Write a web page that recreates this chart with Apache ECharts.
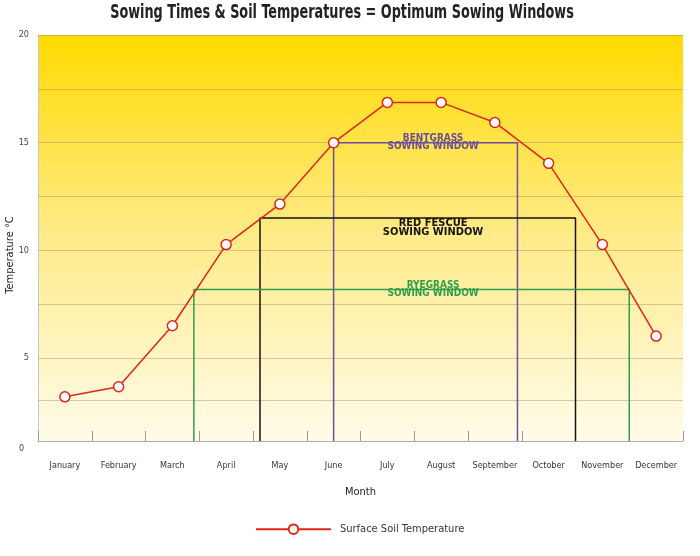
<!DOCTYPE html>
<html>
<head>
<meta charset="utf-8">
<script src="https://cdn.jsdelivr.net/npm/echarts@6/dist/echarts.min.js"></script>
<style>html,body{margin:0;padding:0;background:#fff;}#c{width:700px;height:556px;}</style>
</head>
<body>
<div id="c"></div>
<script>
var months = ['January','February','March','April','May','June','July','August','September','October','November','December'];
var soilTemp = [3.2, 3.67, 6.5, 10.27, 12.15, 15.0, 16.87, 16.87, 15.94, 14.04, 10.27, 6.02];
var yLabels = [5, 10, 15, 20];
var gridValues = [3.05, 5, 7.5, 10, 12.5, 15, 17.5, 20];
var yMin = 1.15, yMax = 20;
// sowing windows: [startMonthIndex, endMonthIndex, temperature]
var bentgrass = [5.0, 8.42, 15.0];
var redFescue = [3.63, 9.5, 11.5];
var ryegrass = [2.4, 10.5, 8.18];
var labelX = 6.85;

var FONT = '"DejaVu Sans Condensed", "DejaVu Sans", sans-serif';

function windowData(w) {
  return [[w[0], yMin], [w[0], w[2]], [w[1], w[2]], [w[1], yMin]];
}
function windowSeries(name, w, color, text, fs, lh, labelY) {
  return {
    name: name, type: 'line', xAxisIndex: 1, yAxisIndex: 0,
    data: windowData(w), symbol: 'none', silent: true, z: 3,
    lineStyle: { color: color, width: 1.5 },
    markPoint: {
      symbol: 'circle', symbolSize: 1, itemStyle: { color: 'rgba(0,0,0,0)' }, silent: true,
      data: [{ coord: [labelX, labelY] }],
      label: { show: true, position: 'inside', formatter: text, color: color,
        fontFamily: FONT, fontWeight: 'bold', fontSize: fs, lineHeight: lh, align: 'center' }
    }
  };
}

var chart = echarts.init(document.getElementById('c'));
chart.setOption({
  animation: false,
  grid: {
    left: 38, right: 17, top: 35, bottom: 115, show: true, borderWidth: 0,
    containLabel: false, outerBoundsMode: 'none',
    backgroundColor: new echarts.graphic.LinearGradient(0, 0, 0, 1, [
      { offset: 0, color: '#ffda00' },
      { offset: 0.5, color: '#ffeb8a' },
      { offset: 1, color: '#fffcea' }
    ])
  },
  legend: {
    data: ['Surface Soil Temperature'], bottom: 16, left: 250,
    itemWidth: 75, itemHeight: 12, itemGap: 10,
    textStyle: { fontFamily: FONT, fontSize: 11, color: '#333', padding: [0, 0, 0, 4] }
  },
  xAxis: [{
    type: 'category', data: months, boundaryGap: true,
    axisLine: { show: true, lineStyle: { color: '#aaa', width: 1 } },
    axisTick: { show: true, inside: true, length: 10, interval: 0, lineStyle: { color: '#999' } },
    axisLabel: { interval: 0, margin: 20, fontSize: 9, color: '#333', fontFamily: FONT },
    name: 'Month', nameLocation: 'middle', nameGap: 46,
    nameTextStyle: { fontFamily: FONT, fontSize: 11, color: '#222' }
  }, {
    type: 'value', min: -0.5, max: 11.5, show: false
  }],
  yAxis: {
    type: 'value', min: yMin, max: yMax,
    axisLine: { show: true, onZero: false, lineStyle: { color: '#c8c8c8' } },
    axisTick: { show: false },
    splitLine: { show: false },
    axisLabel: { customValues: yLabels, margin: 9, fontSize: 9, color: '#444', fontFamily: FONT }
  },
  graphic: [{
    type: 'text', x: 342, y: 13, scaleX: 0.75,
    style: { text: 'Sowing Times & Soil Temperatures = Optimum Sowing Windows',
      fontFamily: FONT, fontSize: 19, fontWeight: 'bold', fill: '#222',
      align: 'center', verticalAlign: 'middle' }
  }, {
    type: 'text', x: 10, y: 255, rotation: Math.PI / 2,
    style: { text: 'Temperature °C', fontFamily: FONT, fontSize: 11, fill: '#222',
      align: 'center', verticalAlign: 'middle' }
  }, {
    type: 'text', left: 19, top: 444,
    style: { text: '0', fontSize: 9, fill: '#444', fontFamily: FONT }
  }],
  series: [
    windowSeries('Bentgrass', bentgrass, '#6a4f9c', 'BENTGRASS\nSOWING WINDOW', 10, 8, 15.0),
    windowSeries('Red Fescue', redFescue, '#141414', 'RED FESCUE\nSOWING WINDOW', 11, 9, 11.07),
    windowSeries('Ryegrass', ryegrass, '#2e9e4e', 'RYEGRASS\nSOWING WINDOW', 10, 8, 8.17),
    {
      name: 'Surface Soil Temperature', type: 'line', data: soilTemp, z: 5,
      symbol: 'circle', symbolSize: 10, showAllSymbol: true,
      lineStyle: { color: '#e0261b', width: 1.5 },
      itemStyle: { color: '#ffffff', borderColor: '#e0261b', borderWidth: 1.5 },
      markLine: {
        symbol: 'none', silent: true, label: { show: false }, z: 1,
        lineStyle: { color: 'rgba(140,130,110,0.4)', width: 1, type: 'solid' },
        data: gridValues.map(function (v) { return { yAxis: v }; })
      }
    }
  ]
});
</script>
</body>
</html>
